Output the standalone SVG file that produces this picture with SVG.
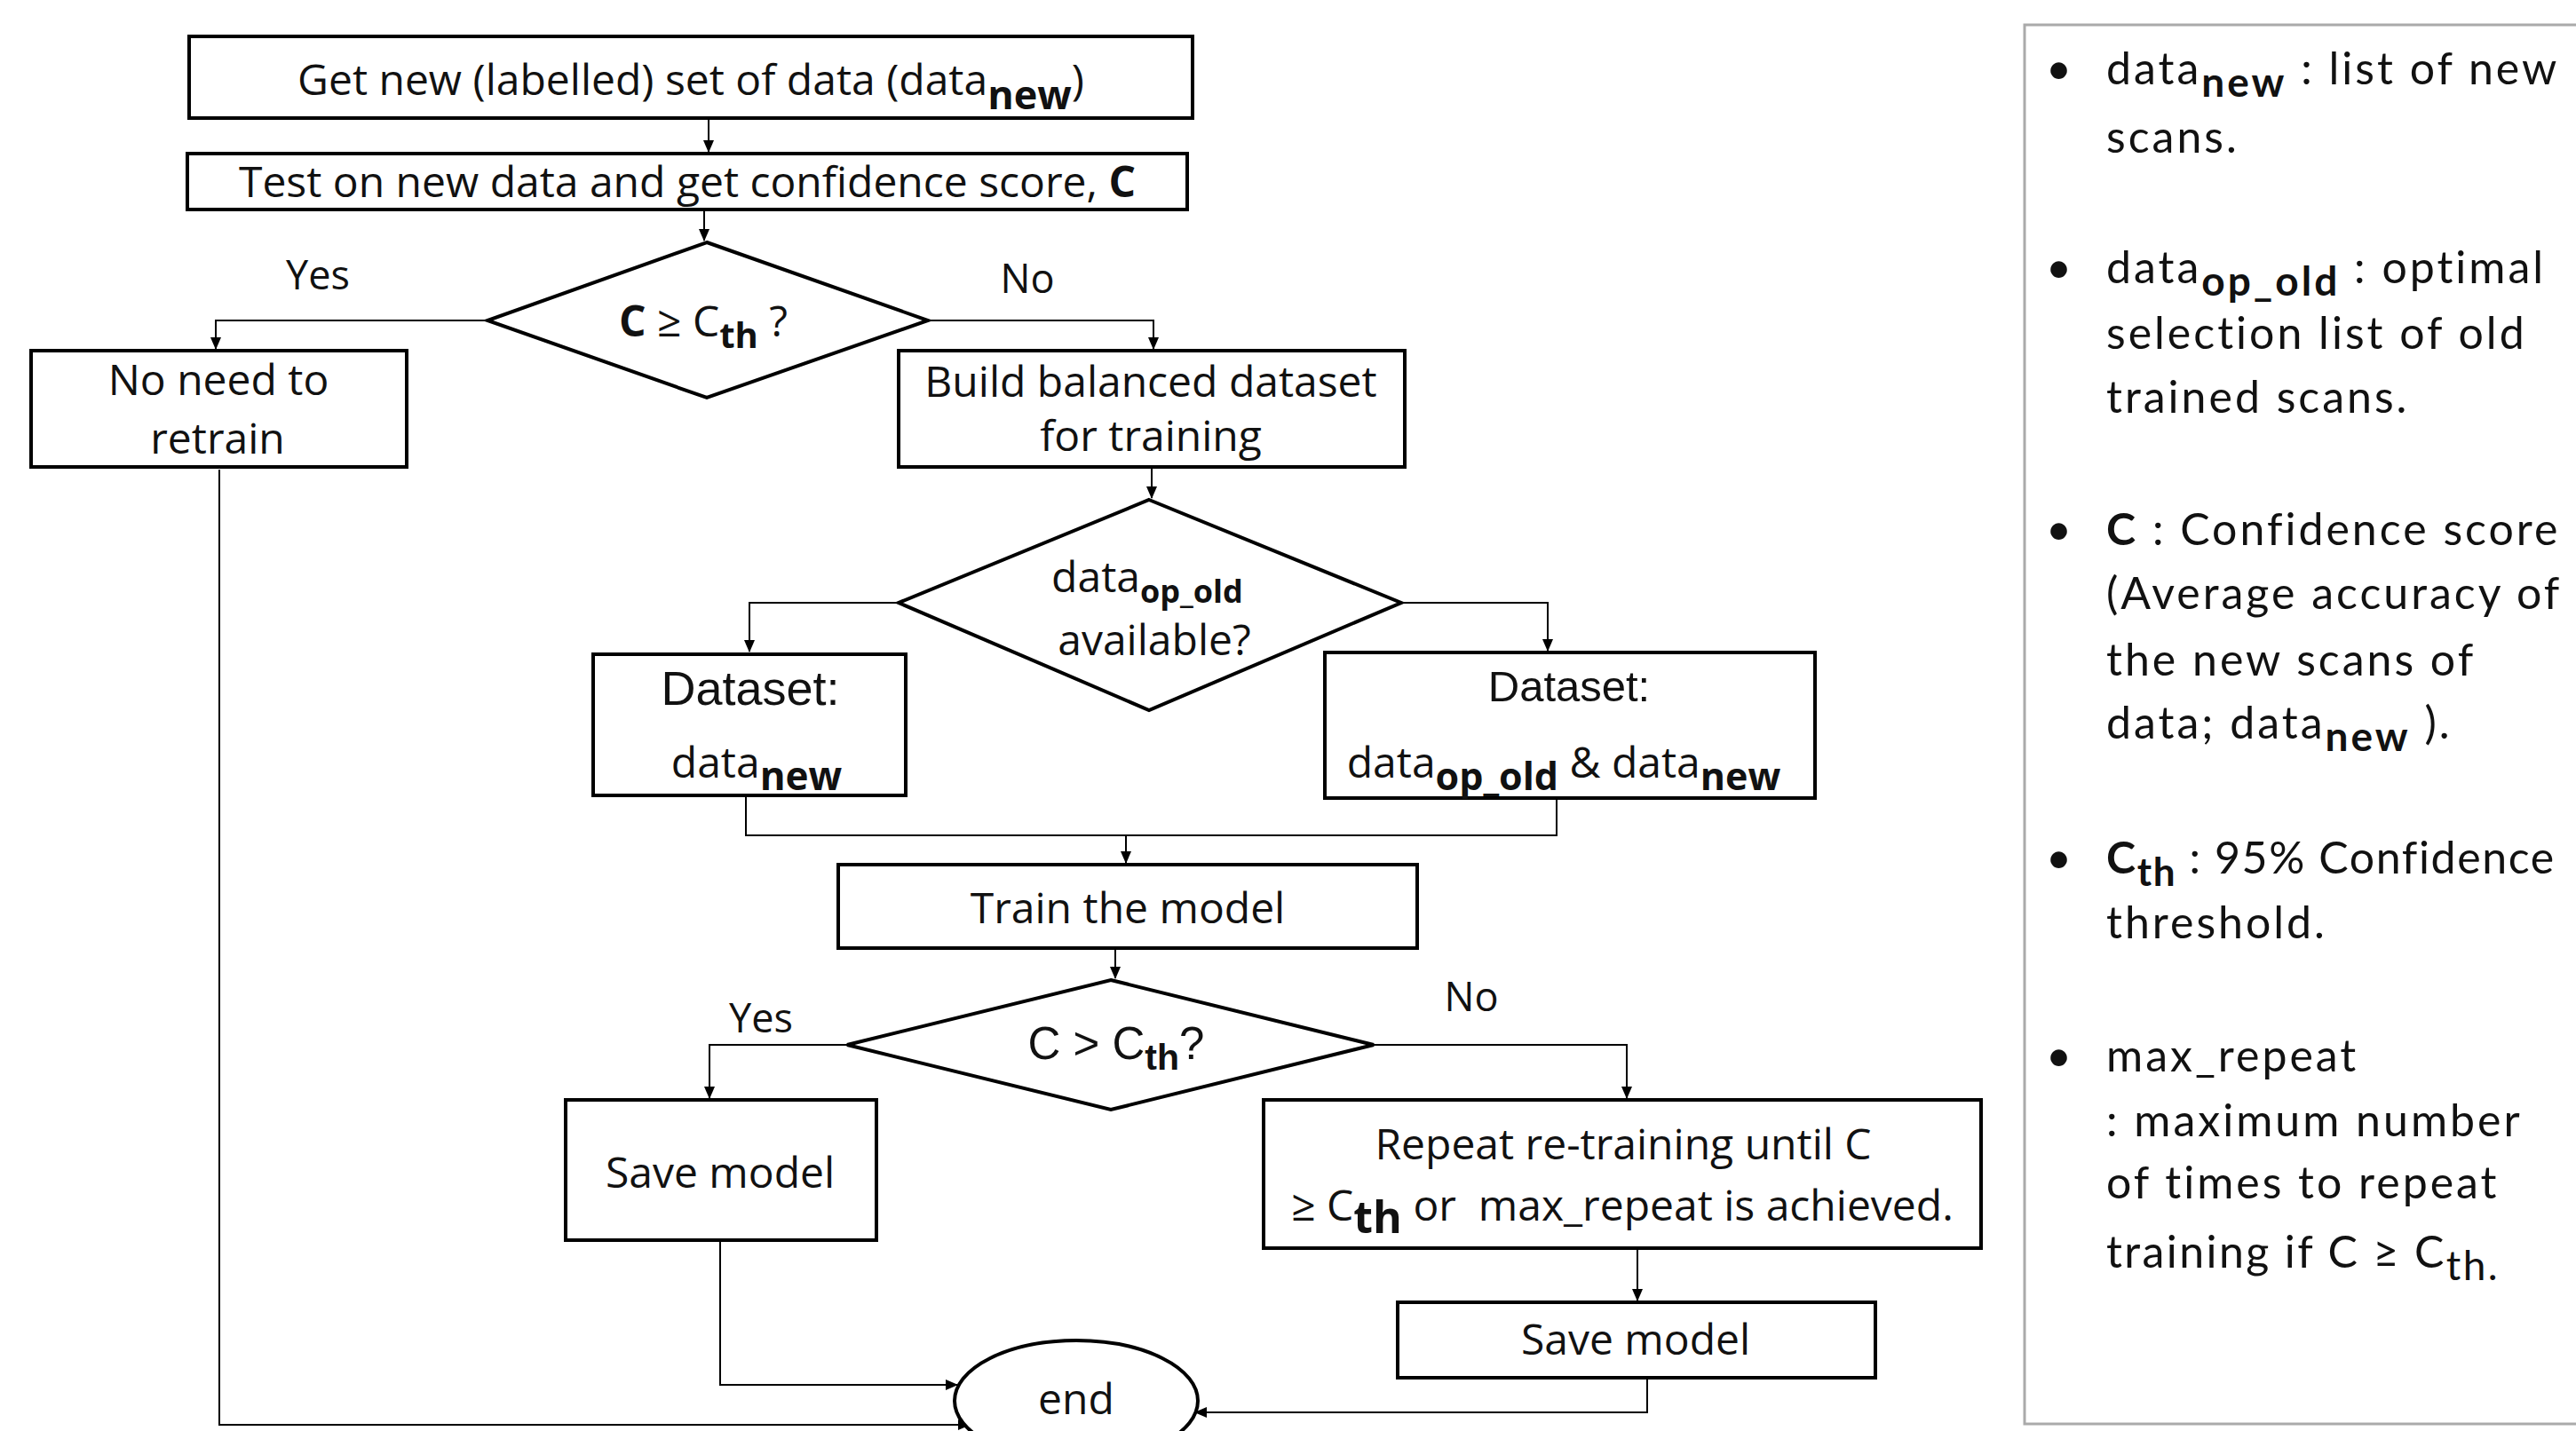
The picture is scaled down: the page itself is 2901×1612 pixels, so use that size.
<svg xmlns="http://www.w3.org/2000/svg" width="2901" height="1612" viewBox="0 0 2901 1612">
<style>
.box{fill:#fff;stroke:#000;stroke-width:4}
.conn{fill:none;stroke:#000;stroke-width:2}
.t{font-family:"Open Sans","DejaVu Sans",sans-serif;font-size:48px;fill:#111;text-anchor:middle}
.a{font-family:"Liberation Sans",Arial,sans-serif;fill:#111;text-anchor:middle}
.lbl{font-size:45px}
.b{font-weight:bold}
.p{font-family:Lato,"Open Sans",sans-serif;font-size:50px;letter-spacing:3px;fill:#111}
</style>
<defs>
<marker id="ah" markerWidth="14" markerHeight="12" refX="13" refY="6" orient="auto" markerUnits="userSpaceOnUse">
<path d="M0,0 L14,6 L0,12 z" fill="#000"/>
</marker>
</defs>
<rect width="2901" height="1612" fill="#fff"/>

<g id="connectors">
<path class="conn" d="M798,135 V171" marker-end="url(#ah)"/>
<path class="conn" d="M793,238 V271" marker-end="url(#ah)"/>
<path class="conn" d="M549,361 H243 V393" marker-end="url(#ah)"/>
<path class="conn" d="M1045,361 H1299 V393" marker-end="url(#ah)"/>
<path class="conn" d="M1297,527 V561" marker-end="url(#ah)"/>
<path class="conn" d="M1012,679 H844 V734" marker-end="url(#ah)"/>
<path class="conn" d="M1578,679 H1743 V733" marker-end="url(#ah)"/>
<path class="conn" d="M840,898 V941 H1753 V901"/>
<path class="conn" d="M1268,941 V972" marker-end="url(#ah)"/>
<path class="conn" d="M1256,1070 V1102" marker-end="url(#ah)"/>
<path class="conn" d="M954,1177 H799 V1237" marker-end="url(#ah)"/>
<path class="conn" d="M1547,1177 H1832 V1237" marker-end="url(#ah)"/>
<path class="conn" d="M1844,1408 V1465" marker-end="url(#ah)"/>
<path class="conn" d="M811,1399 V1560 H1078" marker-end="url(#ah)"/>
<path class="conn" d="M247,529 V1605 H1092" marker-end="url(#ah)"/>
<path class="conn" d="M1855,1554 V1591 H1346" marker-end="url(#ah)"/>
</g>

<g id="n-get">
<rect class="box" x="213" y="41" width="1130" height="92"/>
<text class="t" x="778" y="107" font-size="51">Get new (labelled) set of data (data<tspan class="b" font-size="45" dy="16">new</tspan><tspan dy="-16">)</tspan></text>
</g>
<g id="n-test">
<rect class="box" x="211" y="173" width="1126" height="63"/>
<text class="t" x="774" y="222">Test on new data and get confidence score, <tspan class="b">C</tspan></text>
</g>
<g id="d-cth">
<polygon class="box" points="796,273 1045,361 796,448 549,361"/>
<text class="t" x="792" y="379" font-size="50"><tspan class="b">C</tspan> ≥ C<tspan class="b" font-size="40" dy="13">th</tspan><tspan dy="-13"> ?</tspan></text>
</g>
<text class="t lbl" x="358" y="326">Yes</text>
<text class="t lbl" x="1157" y="330">No</text>
<g id="n-noneed">
<rect class="box" x="35" y="395" width="423" height="131"/>
<text class="t" x="246" y="445">No need to</text>
<text class="t" x="245" y="511">retrain</text>
</g>
<g id="n-build">
<rect class="box" x="1012" y="395" width="570" height="131"/>
<text class="t" x="1296" y="447">Build balanced dataset</text>
<text class="t" x="1296" y="508">for training</text>
</g>
<g id="d-avail">
<polygon class="box" points="1294,563 1578,679 1294,800 1012,679"/>
<text class="t" x="1292" y="667" font-size="47">data<tspan font-size="36" class="b" dy="12">op_old</tspan></text>
<text class="t" x="1300" y="738" font-size="49">available?</text>
</g>
<g id="n-ds-new">
<rect class="box" x="668" y="737" width="352" height="159"/>
<text class="a" x="845" y="794" font-size="54">Dataset:</text>
<text class="t" x="852" y="876">data<tspan class="b" font-size="44" dy="14">new</tspan></text>
</g>
<g id="n-ds-both">
<rect class="box" x="1492" y="735" width="552" height="164"/>
<text class="a" x="1767" y="790" font-size="49">Dataset:</text>
<text class="t" x="1761" y="876">data<tspan class="b" font-size="43" dy="14">op_old</tspan><tspan dy="-14"> &amp; data</tspan><tspan class="b" font-size="43" dy="14">new</tspan></text>
</g>
<g id="n-train">
<rect class="box" x="944" y="974" width="652" height="94"/>
<text class="t" x="1270" y="1040">Train the model</text>
</g>
<g id="d-cgt">
<polygon class="box" points="1251,1104 1547,1177 1251,1250 954,1177"/>
<text class="a" x="1257" y="1193" font-size="51">C &gt; C<tspan class="b" font-size="41" dy="12">th</tspan><tspan dy="-12">?</tspan></text>
</g>
<text class="t lbl" x="857" y="1163">Yes</text>
<text class="t lbl" x="1657" y="1139">No</text>
<g id="n-save1">
<rect class="box" x="637" y="1239" width="350" height="158"/>
<text class="t" x="811" y="1338">Save model</text>
</g>
<g id="n-repeat">
<rect class="box" x="1423" y="1239" width="808" height="167"/>
<text class="t" x="1828" y="1306">Repeat re-training until C</text>
<text class="t" x="1827" y="1375" xml:space="preserve">≥ C<tspan class="b" font-size="50" dy="14">th</tspan><tspan dy="-14"> or  max_repeat is achieved.</tspan></text>
</g>
<g id="n-save2">
<rect class="box" x="1574" y="1467" width="538" height="85"/>
<text class="t" x="1842" y="1526">Save model</text>
</g>
<g id="n-end">
<ellipse class="box" cx="1212" cy="1578" rx="137" ry="68"/>
<text class="t" x="1212" y="1593" font-size="62">end</text>
</g>

<g id="legend">
<rect x="2280" y="28" width="700" height="1576" fill="#fff" stroke="#aaa" stroke-width="3"/>
<g class="p">
<text x="2304" y="95">•</text>
<text x="2372" y="95">data<tspan class="b" font-size="46" dy="14">new</tspan><tspan dy="-14"> : list of new</tspan></text>
<text x="2372" y="172">scans.</text>
<text x="2304" y="319">•</text>
<text x="2372" y="319">data<tspan class="b" font-size="46" dy="14">op_old</tspan><tspan dy="-14"> : optimal</tspan></text>
<text x="2372" y="393">selection list of old</text>
<text x="2372" y="465">trained scans.</text>
<text x="2304" y="614">•</text>
<text x="2372" y="614"><tspan class="b">C</tspan> : Confidence score</text>
<text x="2372" y="686">(Average accuracy of</text>
<text x="2372" y="761">the new scans of</text>
<text x="2372" y="832">data; data<tspan class="b" font-size="46" dy="14">new</tspan><tspan dy="-14"> ).</tspan></text>
<text x="2304" y="984">•</text>
<text x="2372" y="984" letter-spacing="1.6"><tspan class="b">C<tspan font-size="44" dy="14">th</tspan></tspan><tspan dy="-14"> : 95% Confidence</tspan></text>
<text x="2372" y="1057">threshold.</text>
<text x="2304" y="1207">•</text>
<text x="2372" y="1207">max_repeat</text>
<text x="2372" y="1280">: maximum number</text>
<text x="2372" y="1350">of times to repeat</text>
<text x="2372" y="1428" letter-spacing="2.4">training if C ≥ C<tspan font-size="46" dy="14">th.</tspan></text>
</g>
</g>
</svg>
